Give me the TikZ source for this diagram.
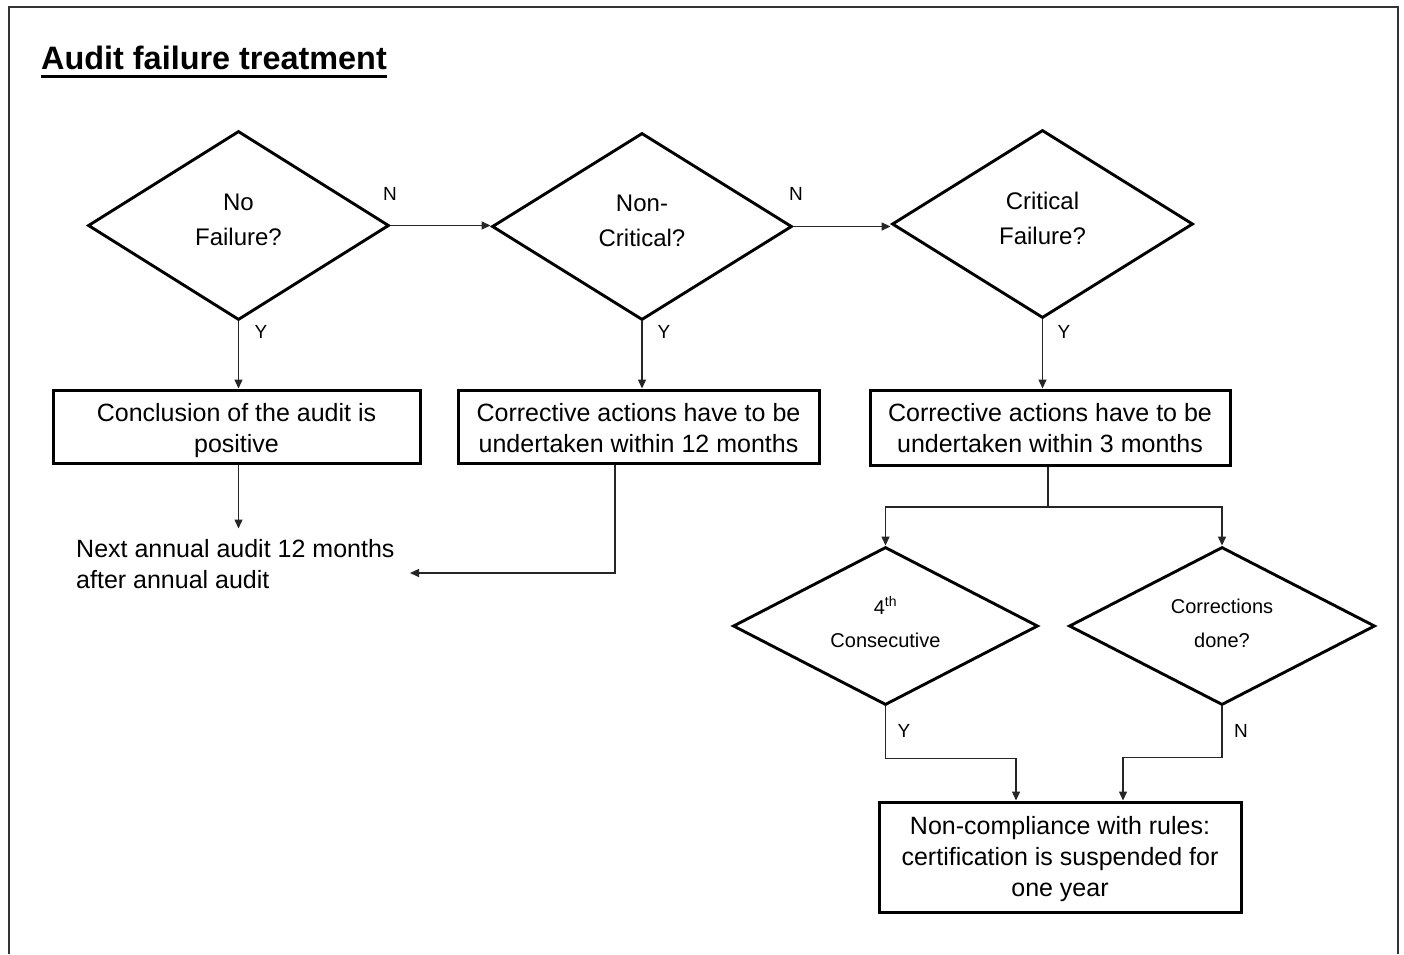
\documentclass[tikz,border=0pt]{standalone}
\usepackage{fontspec}
\setmainfont{Liberation Sans}
\usetikzlibrary{shapes.geometric,arrows.meta}
\newcommand{\myboxstrut}{\rule[-6pt]{0pt}{24pt}}
\newcommand{\myfirststrut}{\rule[-6pt]{0pt}{32pt}}
\newcommand{\mydecstrut}{\rule[-11pt]{0pt}{22pt}}
\newcommand{\mysmallstrut}{\rule[-8pt]{0pt}{25pt}}
\begin{document}
\begin{tikzpicture}[x=1pt,y=-1pt,
  dec/.style={draw,shape=diamond,line width=2.9pt,inner sep=0pt,align=center,font=\fontsize{24}{35}\selectfont},
  decs/.style={dec,shape aspect=2,font=\fontsize{20}{33.5}\selectfont},
  procbox/.style={draw,rectangle,line width=3pt,inner sep=0pt,align=center,font=\fontsize{25}{31}\selectfont},
  conn/.style={line width=1.4pt,draw=black!85},
  arr/.style={conn,-{Triangle[length=9pt,width=8pt]}},
  yn/.style={font=\fontsize{19}{22}\selectfont,inner sep=0pt}]
\useasboundingbox (0,0) rectangle (1404,954);
\draw[line width=2pt,draw=black!80] (9,954) -- (9,7) -- (1398,7) -- (1398,954);

\node[anchor=base west,inner sep=0pt,font=\fontsize{32.4}{38}\selectfont\bfseries] (title) at (41,69) {Audit failure treatment};
\draw[line width=3pt] ([yshift=-7pt]title.base west) -- ([yshift=-7pt]title.base east);

\node[dec,minimum width=301pt,minimum height=189pt] (d1) at (238.5,225.5) {\mydecstrut No\\\mydecstrut Failure?};
\node[dec,minimum width=300pt,minimum height=187pt] (d2) at (642,226.5) {\mydecstrut Non-\\\mydecstrut Critical?};
\node[dec,minimum width=301pt,minimum height=188pt] (d3) at (1042.5,224) {\mydecstrut Critical\\\mydecstrut Failure?};
\node[decs,minimum width=305pt,minimum height=158pt] (d4) at (885.5,626) {\mysmallstrut 4\textsuperscript{th}\\\mysmallstrut Consecutive};
\node[decs,minimum width=306pt,minimum height=158pt] (d5) at (1222,626) {\mysmallstrut Corrections\\\mysmallstrut done?};

\node[procbox,minimum width=367pt,minimum height=73pt] (b1) at (236.5,426.5) {\myfirststrut Conclusion of the audit is\\\myboxstrut positive};
\node[procbox,minimum width=361pt,minimum height=73pt] (b2) at (638.5,426.5) {\myfirststrut Corrective actions have to be\\\myboxstrut undertaken within 12 months};
\node[procbox,minimum width=360pt,minimum height=75pt] (b3) at (1050,427.5) {\rule[-6pt]{0pt}{30pt}Corrective actions have to be\\\myboxstrut undertaken within 3 months};
\node[procbox,minimum width=362pt,minimum height=110pt] (b4) at (1060,857) {\myfirststrut Non-compliance with rules:\\\myboxstrut certification is suspended for\\\rule[-10pt]{0pt}{20pt}one year};

\node[anchor=north west,inner sep=0pt,align=left,font=\fontsize{25}{31}\selectfont] (next) at (76,539) {Next annual audit 12 months\\after annual audit};

\coordinate (nxt) at (410,573);
\coordinate (split) at (1048,507);

\draw[arr] (d1.east) -- (d1.east -| d2.west);
\draw[arr] (d2.east) -- (d2.east -| d3.west);
\draw[arr] (d1.south) -- (d1.south |- b1.north);
\draw[arr] (d2.south) -- (d2.south |- b2.north);
\draw[arr] (d3.south) -- (d3.south |- b3.north);
\draw[arr] (d1.south |- b1.south) -- ++(0,64);
\draw[arr] ([xshift=-23.5pt]b2.south) |- (nxt);
\draw[conn] ([xshift=-2pt]b3.south) -- (split);
\draw[arr] (split) -| (d4.north);
\draw[arr] (split) -| (d5.north);
\draw[arr] (d4.south) -- ++(0,52) -| ([xshift=-44pt]b4.north);
\draw[arr] (d5.south) -- ++(0,51) -| ([xshift=63pt]b4.north);

\node[yn] (n1) at (390,194) {N};
\node[yn] (n2) at (796,194) {N};
\node[yn] (y1) at (261,332) {Y};
\node[yn] (y2) at (664,332) {Y};
\node[yn] (y3) at (1064,332) {Y};
\node[yn] (y4) at (904,731) {Y};
\node[yn] (n3) at (1241,731) {N};
\end{tikzpicture}
\end{document}
